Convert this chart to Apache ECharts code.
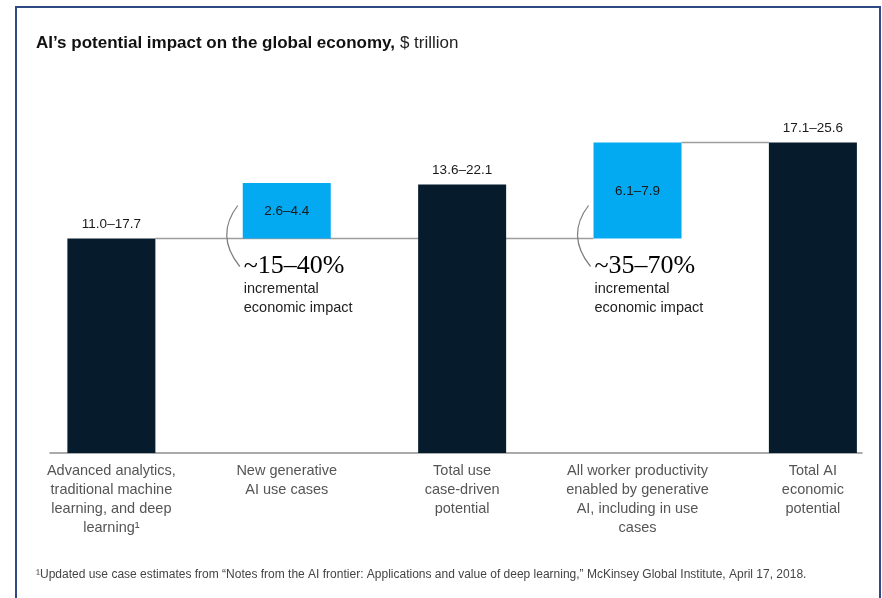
<!DOCTYPE html>
<html>
<head>
<meta charset="utf-8">
<title>AI’s potential impact on the global economy</title>
<script src="https://cdn.jsdelivr.net/npm/echarts@6/dist/echarts.min.js"></script>
<style>
html, body { margin: 0; padding: 0; background: #fff; }
#main { width: 882px; height: 598px; }
#frame { position: absolute; left: 15px; top: 6px; width: 866px; height: 610px; border: 2px solid #2d4b82; box-sizing: border-box; pointer-events: none; }
</style>
</head>
<body>
<div id="main"></div>
<div id="frame"></div>
<script>
var categories = [
	'Advanced analytics,\ntraditional machine\nlearning, and deep\nlearning¹',
	'New generative\nAI use cases',
	'Total use\ncase-driven\npotential',
	'All worker productivity\nenabled by generative\nAI, including in use\ncases',
	'Total AI\neconomic\npotential'
]
var rangeLabels = ['11.0–17.7', '2.6–4.4', '13.6–22.1', '6.1–7.9', '17.1–25.6']
// bar bottoms and heights as drawn (schematic, $ trillion)
var barBase = [0, 14.3, 0, 14.3, 0]
var barHeight = [14.3, 3.7, 17.9, 6.4, 20.7]
var isIncrement = [false, true, false, true, false]
// connector lines: from bar -> to bar, at the top of the "from" bar
var connectorPairs = [[0, 3], [3, 4]]
// annotations next to the incremental bars
var noteBars = [1, 3]
var noteLabels = ['~15–40%', '~35–70%']
var noteText = 'incremental\neconomic impact'

var NAVY = '#061c2c'
var BLUE = '#03a9f1'
var BAR_W = 88
var SANS = '"Liberation Sans", Arial, sans-serif'

var barData = categories.map(function (c, i) {
	return [i, barBase[i], barBase[i] + barHeight[i]]
})
var connectorData = connectorPairs.map(function (p) {
	return [p[0], p[1], barBase[p[0]] + barHeight[p[0]]]
})
var noteData = noteBars.map(function (b, k) {
	return [b, barBase[b], k]
})

function renderBar (params, api) {
	var i = api.value(0)
	var lo = api.coord([i, api.value(1)])
	var hi = api.coord([i, api.value(2)])
	var inc = isIncrement[params.dataIndex]
	var h = lo[1] - hi[1]
	return {
		type: 'group',
		children: [
			{
				type: 'rect',
				shape: { x: lo[0] - BAR_W / 2, y: hi[1], width: BAR_W, height: h },
				style: { fill: inc ? BLUE : NAVY }
			},
			{
				type: 'text',
				x: lo[0],
				y: inc ? hi[1] + h / 2 + 1 : hi[1] - 7,
				style: {
					text: rangeLabels[params.dataIndex],
					fill: '#1a1a1a',
					font: '13.5px ' + SANS,
					align: 'center',
					verticalAlign: inc ? 'middle' : 'bottom'
				}
			}
		]
	}
}

function renderConnector (params, api) {
	var a = api.coord([api.value(0), api.value(2)])
	var b = api.coord([api.value(1), api.value(2)])
	return {
		type: 'line',
		shape: { x1: a[0] + BAR_W / 2, y1: a[1], x2: b[0] - BAR_W / 2, y2: b[1] },
		style: { stroke: '#9d9d9d', lineWidth: 1.5 }
	}
}

function renderNote (params, api) {
	var p = api.coord([api.value(0), api.value(1)])
	var x0 = p[0] - BAR_W / 2
	var y0 = p[1]
	return {
		type: 'group',
		children: [
			{
				type: 'bezierCurve',
				shape: { x1: x0 - 5, y1: y0 - 33, cpx1: x0 - 28, cpy1: y0 - 3, x2: x0 - 3, y2: y0 + 28 },
				style: { stroke: '#7d7d7d', lineWidth: 1.2, fill: null }
			},
			{
				type: 'text',
				x: x0 + 1,
				y: y0 + 28,
				style: {
					text: noteLabels[api.value(2)],
					fill: '#000',
					font: '26px "Liberation Serif", "Times New Roman", serif',
					verticalAlign: 'middle'
				}
			},
			{
				type: 'text',
				x: x0 + 1,
				y: y0 + 41,
				style: {
					text: noteText,
					fill: '#222',
					font: '14.5px ' + SANS,
					lineHeight: 19,
					verticalAlign: 'top'
				}
			}
		]
	}
}

var chart = echarts.init(document.getElementById('main'))
chart.setOption({
	animation: false,
	title: [{
		text: '{b|AI’s potential impact on the global economy,} {r|$ trillion}',
		left: 36,
		top: 34,
		padding: 0,
		textStyle: {
			rich: {
				b: { fontFamily: 'Liberation Sans', fontSize: 17, fontWeight: 'bold', color: '#111' },
				r: { fontFamily: 'Liberation Sans', fontSize: 17, fontWeight: 'normal', color: '#222' }
			}
		}
	}, {
		text: '¹Updated use case estimates from “Notes from the AI frontier: Applications and value of deep learning,” McKinsey Global Institute, April 17, 2018.',
		left: 36,
		top: 569,
		padding: 0,
		textStyle: { fontFamily: 'Liberation Sans', fontSize: 12, fontWeight: 'normal', color: '#444' }
	}],
	grid: { left: 50, right: 20, top: 78, bottom: 145 },
	xAxis: {
		type: 'value',
		min: -0.35,
		max: 4.28,
		splitLine: { show: false },
		axisTick: { show: false },
		axisLine: { show: true, lineStyle: { color: '#8e8e8e', width: 1.5 } },
		axisLabel: {
			customValues: [0, 1, 2, 3, 4],
			formatter: function (v) { return categories[Math.round(v)] },
			color: '#555',
			fontFamily: 'Liberation Sans',
			fontSize: 14.5,
			lineHeight: 19,
			margin: 8
		}
	},
	yAxis: { type: 'value', min: 0, max: 25, show: false },
	series: [
		{
			type: 'custom',
			renderItem: renderConnector,
			encode: { x: [0, 1], y: 2 },
			data: connectorData,
			z: 1,
			silent: true
		},
		{
			type: 'custom',
			renderItem: renderBar,
			encode: { x: 0, y: [1, 2] },
			data: barData,
			z: 2,
			silent: true
		},
		{
			type: 'custom',
			renderItem: renderNote,
			encode: { x: 0, y: 1 },
			data: noteData,
			z: 3,
			silent: true
		}
	]
})
</script>
</body>
</html>
